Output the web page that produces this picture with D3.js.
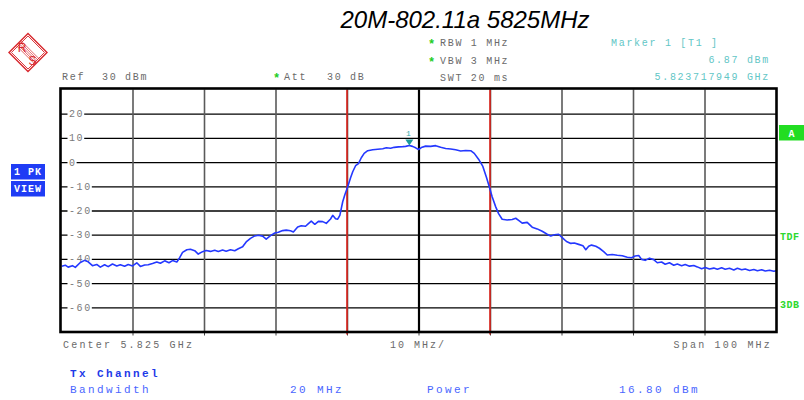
<!DOCTYPE html>
<html>
<head>
<meta charset="utf-8">
<script src="https://cdnjs.cloudflare.com/ajax/libs/d3/7.8.5/d3.min.js"></script>
<style>
  html, body { margin: 0; padding: 0; background: #fff; }
  svg { display: block; }
  text { white-space: pre; }
</style>
</head>
<body>
<svg id="chart" width="804" height="400"></svg>
<script>
// Spectrum trace: frequency offset from centre (MHz) and level (dBm)
const traceOffsetMHz = [
  -49.9, -49.4, -49.0, -48.4, -48.0, -47.3, -46.7, -46.2, -45.6, -45.0,
  -44.5, -43.9, -43.4, -42.8, -42.2, -41.7, -41.1, -40.6, -40.0, -39.4,
  -38.9, -38.3, -37.8, -37.2, -36.6, -36.1, -35.5, -34.9, -34.4, -33.8,
  -33.4, -33.0, -32.4, -31.9, -31.3, -30.8, -30.2, -29.7, -29.1, -28.5,
  -28.0, -27.4, -26.9, -26.3, -25.7, -25.2, -24.6, -24.1, -23.5, -22.9,
  -22.4, -21.8, -21.3, -20.7, -20.1, -19.6, -19.0, -18.5, -17.9, -17.5,
  -16.9, -16.4, -15.8, -15.4, -15.0, -14.5, -14.0, -13.4, -12.9, -12.3,
  -12.0, -11.6, -11.3, -11.0, -10.6, -10.3, -9.9, -9.5, -9.2, -8.8,
  -8.4, -8.0, -7.6, -7.1, -6.4, -5.7, -5.0, -4.5, -3.9, -3.4,
  -2.8, -2.2, -1.8, -1.28, -0.84, -0.4, 0.0, 0.4, 1.0, 1.7,
  2.4, 3.1, 3.8, 4.5, 5.2, 5.9, 6.6, 7.3, 7.8, 8.4,
  9.0, 9.5, 9.9, 10.3, 10.8, 11.2, 11.7, 12.4, 13.1, 13.6,
  14.1, 14.5, 15.2, 15.9, 16.6, 17.3, 18.0, 18.5, 19.0, 19.6,
  20.1, 20.7, 21.3, 21.8, 22.4, 23.0, 23.4, 23.8, 24.2, 24.8,
  25.3, 25.9, 26.4, 27.1, 27.8, 28.5, 29.2, 29.8, 30.3, 30.8,
  31.2, 31.7, 32.3, 32.9, 33.4, 34.0, 34.5, 35.1, 35.7, 36.2,
  36.8, 37.3, 37.9, 38.5, 39.0, 39.6, 40.1, 40.7, 41.3, 41.8,
  42.4, 42.9, 43.5, 44.1, 44.6, 45.2, 45.7, 46.3, 46.9, 47.4,
  48.0, 48.5, 49.1, 49.7, 50.0
];
const traceLevelDbm = [
  -43.0, -42.6, -43.4, -42.8, -43.5, -41.5, -40.6, -41.2, -42.8, -42.3,
  -43.4, -42.4, -43.2, -42.1, -42.9, -42.4, -43.0, -42.3, -42.9, -41.6,
  -43.1, -42.5, -42.4, -41.9, -41.3, -41.8, -40.8, -41.6, -40.7, -41.3,
  -39.5, -37.3, -36.2, -36.0, -36.6, -38.0, -37.0, -36.5, -36.9, -36.4,
  -36.9, -36.3, -36.8, -36.2, -36.6, -35.8, -35.0, -33.0, -31.5, -30.5,
  -30.2, -30.6, -31.8, -30.4, -29.3, -29.0, -28.3, -28.1, -28.4, -28.9,
  -26.8, -26.3, -26.5, -25.4, -24.4, -25.7, -24.5, -24.6, -25.3, -23.5,
  -22.0, -23.4, -23.6, -22.0, -16.4, -13.5, -10.2, -6.5, -4.0, -1.5,
  -0.6, 1.8, 3.6, 4.7, 5.1, 5.3, 5.5, 5.9, 5.7, 6.1,
  6.3, 6.4, 6.5, 6.87, 6.5, 5.9, 5.2, 6.0, 6.6, 6.5,
  6.8, 6.1, 5.6, 5.4, 5.1, 4.6, 4.8, 4.7, 3.6, 1.2,
  -1.8, -6.3, -10.2, -14.3, -18.5, -21.3, -23.6, -23.9, -23.7, -23.2,
  -24.3, -25.2, -24.9, -26.9, -27.6, -28.6, -29.8, -30.5, -30.0, -29.8,
  -31.2, -32.8, -33.6, -33.4, -34.0, -34.6, -36.2, -34.8, -34.3, -34.8,
  -35.6, -37.0, -38.4, -38.2, -38.5, -38.7, -39.3, -39.5, -38.8, -38.6,
  -40.2, -40.6, -39.7, -40.3, -41.6, -41.3, -42.2, -41.6, -42.6, -42.1,
  -42.8, -42.3, -43.0, -42.7, -43.3, -44.1, -43.6, -44.2, -43.8, -44.3,
  -43.7, -44.3, -43.9, -44.6, -43.9, -44.5, -44.2, -44.8, -44.4, -44.9,
  -44.5, -45.0, -44.7, -45.1, -44.9
];

// Level grid (dBm) with the labels printed inside the plot
const levelTicks = [20, 10, 0, -10, -20, -30, -40, -50, -60];
const levelTickLabels = ["20", "10", "0", "-10", "-20", "-30", "-40", "-50", "-60"];
// Frequency grid (MHz offset from centre), 10 MHz per division
const freqTicks = [-40, -30, -20, -10, 0, 10, 20, 30, 40];
// Channel bandwidth limits (MHz offset)
const channelLimits = [-10, 10];

// Marker 1
const markerOffsetMHz = -1.28;
const markerLevelDbm = 6.87;

const titleText = "20M-802.11a 5825MHz";
const setupLines = [
  { star: true, text: "RBW 1 MHz" },
  { star: true, text: "VBW 3 MHz" },
  { star: false, text: "SWT 20 ms" }
];
const markerLines = ["Marker 1 [T1 ]", "6.87 dBm", "5.823717949 GHz"];
const footerLabels = ["Center 5.825 GHz", "10 MHz/", "Span 100 MHz"];
const channelTitle = "Tx Channel";
const channelRow = ["Bandwidth", "20 MHz", "Power", "16.80 dBm"];

const svg = d3.select("#chart");

const plotLeft = 61, plotRight = 776, plotTop = 89.5, plotBottom = 331.5;
const x = d3.scaleLinear().domain([-50, 50]).range([plotLeft, plotRight]);
const y = d3.scaleLinear().domain([-70, 30]).range([plotBottom, plotTop]);

const grey = "#6a6a6a";
const cyan = "#62c6c6";
const red = "#d8262c";
const mono = "Liberation Mono, DejaVu Sans Mono, monospace";

// Title
svg.append("text")
  .attr("x", 465).attr("y", 28)
  .attr("text-anchor", "middle")
  .attr("font-family", "Liberation Sans, Arial, sans-serif")
  .attr("font-style", "italic")
  .attr("font-size", 24)
  .attr("fill", "#000")
  .text(titleText);

// R&S logo
const logo = svg.append("g").attr("transform", "translate(28,52.5)").attr("stroke", red).attr("fill", "none");
logo.append("path").attr("d", "M0,-19 L19,0 L0,19 L-19,0 Z").attr("stroke-width", 1.4);
logo.append("path").attr("d", "M0,-16.5 L16.5,0 L0,16.5 L-16.5,0 Z").attr("stroke-width", 0.9);
[-2.4, -1.2, 0, 1.2, 2.4].forEach(d => {
  logo.append("line")
    .attr("x1", -9 + d).attr("y1", -9 - d)
    .attr("x2", 9 + d).attr("y2", 9 - d)
    .attr("stroke-width", 0.7);
});
logo.append("text").attr("x", -6).attr("y", -0.5).attr("text-anchor", "middle")
  .attr("font-family", "Liberation Sans, Arial, sans-serif").attr("font-size", 12)
  .attr("fill", red).attr("stroke", "none").text("R");
logo.append("text").attr("x", 4.5).attr("y", 12.5).attr("text-anchor", "middle")
  .attr("font-family", "Liberation Sans, Arial, sans-serif").attr("font-size", 12)
  .attr("fill", red).attr("stroke", "none").text("S");

// Monospaced instrument text
function monoText(xp, yp, txt, color, anchor, spacing) {
  return svg.append("text")
    .attr("x", xp).attr("y", yp)
    .attr("text-anchor", anchor || "start")
    .attr("font-family", mono)
    .attr("font-size", 10)
    .attr("letter-spacing", spacing === undefined ? 1.7 : spacing)
    .attr("fill", color)
    .text(txt);
}
function star(xp, yp) {
  svg.append("text").attr("x", xp).attr("y", yp).attr("font-family", mono).attr("font-size", 12)
    .attr("font-weight", "bold").attr("fill", "#22cc22").text("*");
}

monoText(62, 80, "Ref", grey);
monoText(102, 80, "30 dBm", grey);
star(273, 82);
monoText(284, 80, "Att", grey);
monoText(327, 80, "30 dB", grey);

setupLines.forEach((d, i) => {
  const yy = 46 + i * 17.5;
  if (d.star) star(428, yy + 2);
  monoText(440, yy, d.text, grey);
});

monoText(611, 46, markerLines[0], cyan);
monoText(770, 63, markerLines[1], cyan, "end");
monoText(770, 80, markerLines[2], cyan, "end");

// Plot grid
const plot = svg.append("g");

plot.append("g")
  .attr("transform", `translate(${plotLeft},0)`)
  .call(d3.axisLeft(y).tickValues(levelTicks).tickSize(-(plotRight - plotLeft)).tickFormat(""))
  .call(g => g.select(".domain").remove())
  .call(g => g.selectAll("line").attr("stroke", "#000").attr("stroke-width", 1.3));

plot.append("g")
  .attr("transform", `translate(0,${plotBottom})`)
  .call(d3.axisBottom(x).tickValues(freqTicks).tickSize(-(plotBottom - plotTop)).tickFormat(""))
  .call(g => g.select(".domain").remove())
  .call(g => g.selectAll("line")
    .attr("stroke", d => d === 0 ? "#000" : "#5a5a5a")
    .attr("stroke-width", d => d === 0 ? 2.2 : 1.6));

// Small ticks under the frame
plot.append("g")
  .attr("transform", `translate(0,${plotBottom + 1})`)
  .call(d3.axisBottom(x).tickValues(freqTicks).tickSize(3).tickFormat(""))
  .call(g => g.select(".domain").remove())
  .call(g => g.selectAll("line").attr("stroke", "#444").attr("stroke-width", 1));

// Level labels with white backing over the grid lines
levelTicks.forEach((v, i) => {
  const g = plot.append("g");
  const t = g.append("text")
    .attr("x", 69).attr("y", y(v) + 3.5)
    .attr("font-family", mono).attr("font-size", 10)
    .attr("letter-spacing", 1.6)
    .attr("fill", "#7a7a7a")
    .text(levelTickLabels[i]);
  const bb = t.node().getBBox();
  g.insert("rect", "text")
    .attr("x", bb.x - 1.5).attr("y", y(v) - 4)
    .attr("width", bb.width + 1.5).attr("height", 8)
    .attr("fill", "#fff");
});

// Channel limit lines
channelLimits.forEach(v => {
  plot.append("line")
    .attr("x1", x(v)).attr("x2", x(v))
    .attr("y1", plotTop).attr("y2", plotBottom + 3)
    .attr("stroke", "#e21a12").attr("stroke-width", 1.5);
});

// Trace
const trace = traceOffsetMHz.map((f, i) => [f, traceLevelDbm[i]]);
plot.append("path")
  .datum(trace)
  .attr("fill", "none")
  .attr("stroke", "#2438ff")
  .attr("stroke-width", 1.6)
  .attr("stroke-linejoin", "round")
  .attr("d", d3.line().x(d => x(d[0])).y(d => y(d[1])));

// Marker 1
const mx = x(markerOffsetMHz), my = y(markerLevelDbm);
plot.append("path")
  .attr("d", `M${mx - 4},${my - 6} L${mx + 4},${my - 6} L${mx},${my} Z`)
  .attr("fill", "#1a9a9a");
plot.append("text")
  .attr("x", mx - 1).attr("y", my - 9)
  .attr("text-anchor", "middle")
  .attr("font-family", mono).attr("font-size", 8)
  .attr("fill", "#2aa8a8").text("1");

// Frame
plot.append("rect")
  .attr("x", plotLeft - 0.5).attr("y", plotTop - 1)
  .attr("width", plotRight - plotLeft + 1).attr("height", plotBottom - plotTop + 1.5)
  .attr("fill", "none").attr("stroke", "#000").attr("stroke-width", 2.6);

// Trace status boxes on the left
[["1 PK", 164], ["VIEW", 181]].forEach(([txt, yy]) => {
  svg.append("rect").attr("x", 11).attr("y", yy).attr("width", 34).attr("height", 15.5).attr("fill", "#1f3cf5");
  svg.append("text").attr("x", 28).attr("y", yy + 11).attr("text-anchor", "middle")
    .attr("font-family", mono).attr("font-size", 10).attr("font-weight", "bold")
    .attr("letter-spacing", 1).attr("fill", "#fff").text(txt);
});

// Indicators on the right
svg.append("rect").attr("x", 779).attr("y", 125).attr("width", 25).attr("height", 15.5).attr("fill", "#22dd22");
svg.append("text").attr("x", 791.5).attr("y", 136.5).attr("text-anchor", "middle")
  .attr("font-family", mono).attr("font-size", 10).attr("font-weight", "bold").attr("fill", "#fff").text("A");
svg.append("text").attr("x", 780).attr("y", 240).attr("font-family", mono).attr("font-size", 10)
  .attr("font-weight", "bold").attr("letter-spacing", 0.5).attr("fill", "#2ed82e").text("TDF");
svg.append("text").attr("x", 780).attr("y", 308).attr("font-family", mono).attr("font-size", 10)
  .attr("font-weight", "bold").attr("letter-spacing", 0.5).attr("fill", "#2ed82e").text("3DB");

// Footer
monoText(63, 348, footerLabels[0], grey, "start", 2.2);
monoText(390, 348, footerLabels[1], grey, "start", 2.0);
monoText(772, 348, footerLabels[2], grey, "end", 2.2);

svg.append("text").attr("x", 70).attr("y", 377)
  .attr("font-family", mono).attr("font-size", 11).attr("font-weight", "bold")
  .attr("letter-spacing", 2.4).attr("fill", "#1e3ae8").text(channelTitle);
const rowX = [70, 290, 427, 619];
channelRow.forEach((t, i) => {
  svg.append("text").attr("x", rowX[i]).attr("y", 393)
    .attr("font-family", mono).attr("font-size", 11)
    .attr("letter-spacing", 2.4).attr("fill", "#4a66ff").text(t);
});
</script>
</body>
</html>
